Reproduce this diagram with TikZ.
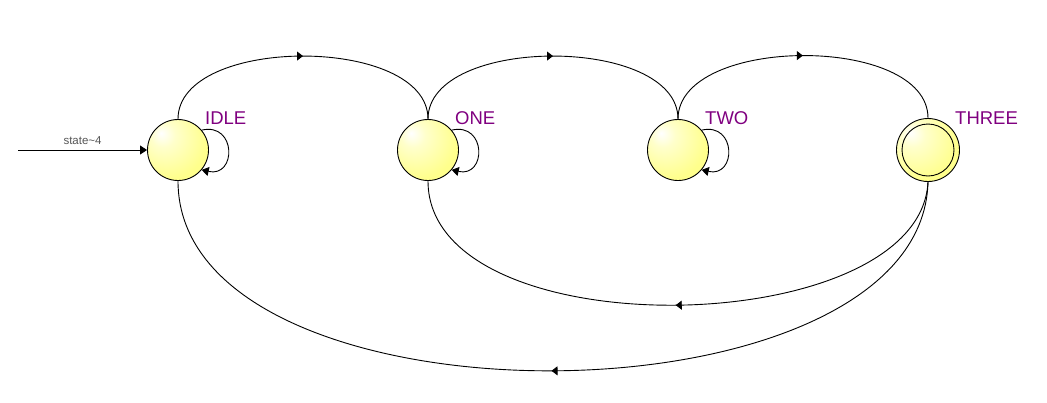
\documentclass[tikz,border=0pt]{standalone}
\usepackage{fontspec}
\setmainfont{Liberation Sans}
\usetikzlibrary{arrows.meta,decorations.markings,calc}
\definecolor{sy}{RGB}{255,255,140}
\definecolor{lblpurple}{RGB}{128,0,128}
\definecolor{initgray}{RGB}{85,85,85}
\pgfdeclareradialshading{stateshade}{\pgfpoint{-14bp}{14bp}}{color(0bp)=(white); color(10bp)=(white!55!sy); color(32bp)=(sy); color(80bp)=(sy)}
\tikzset{
  statebox/.style={circle, draw=black, line width=0.9pt, minimum size=61pt, inner sep=0pt, shading=stateshade},
  innerring/.style={circle, draw=black, line width=0.9pt, minimum size=52pt, inner sep=0pt},
  lbl/.style={anchor=west, text=lblpurple, font=\fontsize{18.5}{20}\selectfont, inner sep=0pt},
  edge/.style={draw=black, line width=0.9pt},
  tip/.style={-{Triangle[length=7pt,width=9pt]}},
  midarrow/.style={postaction={decorate}, decoration={markings, mark=at position 0.5 with {\arrow{Triangle[length=6pt,width=9pt]}}}},
}
\begin{document}
\begin{tikzpicture}[x=1pt,y=-1pt]
\useasboundingbox (0,0) rectangle (1047,402);
% states
\node[statebox] (idle) at (178,150) {};
\node[statebox] (one) at (428,150) {};
\node[statebox] (two) at (678,150) {};
\node[statebox, minimum size=63pt] (three) at (928,150) {};
\node[innerring] (threein) at (928,150) {};
% labels
\node[lbl] (lidle) at (205,118) {IDLE};
\node[lbl] (lone) at (455,118) {ONE};
\node[lbl] (ltwo) at (705,118) {TWO};
\node[lbl] (lthree) at (955,118) {THREE};
% initial arrow
\coordinate (start) at (18,150);
\draw[edge,tip] (start) -- (idle.west) node[midway, above=5pt, text=initgray, font=\fontsize{11.5}{13}\selectfont, inner sep=0pt] (initlbl) {state\textasciitilde 4};
% top transitions
\draw[edge,midarrow] (idle.north) .. controls +(0,-84) and +(0,-84) .. (one.north);
\draw[edge,midarrow] (one.north) .. controls +(0,-84) and +(0,-84) .. (two.north);
\draw[edge,midarrow] (two.north) .. controls +(0,-84) and +(0,-84) .. (three.north);
% bottom transitions
\draw[edge,midarrow] (three.south) .. controls +(-8,160) and +(0,170) .. (one.south);
\draw[edge,midarrow] (three.south) .. controls +(-6,250) and +(0,255) .. (idle.south);
% self loops
\foreach \s in {idle,one,two}{
  \draw[edge,tip] (\s.40) .. controls +(35,-8) and +(35,8) .. (\s.-40);
}
\end{tikzpicture}
\end{document}
